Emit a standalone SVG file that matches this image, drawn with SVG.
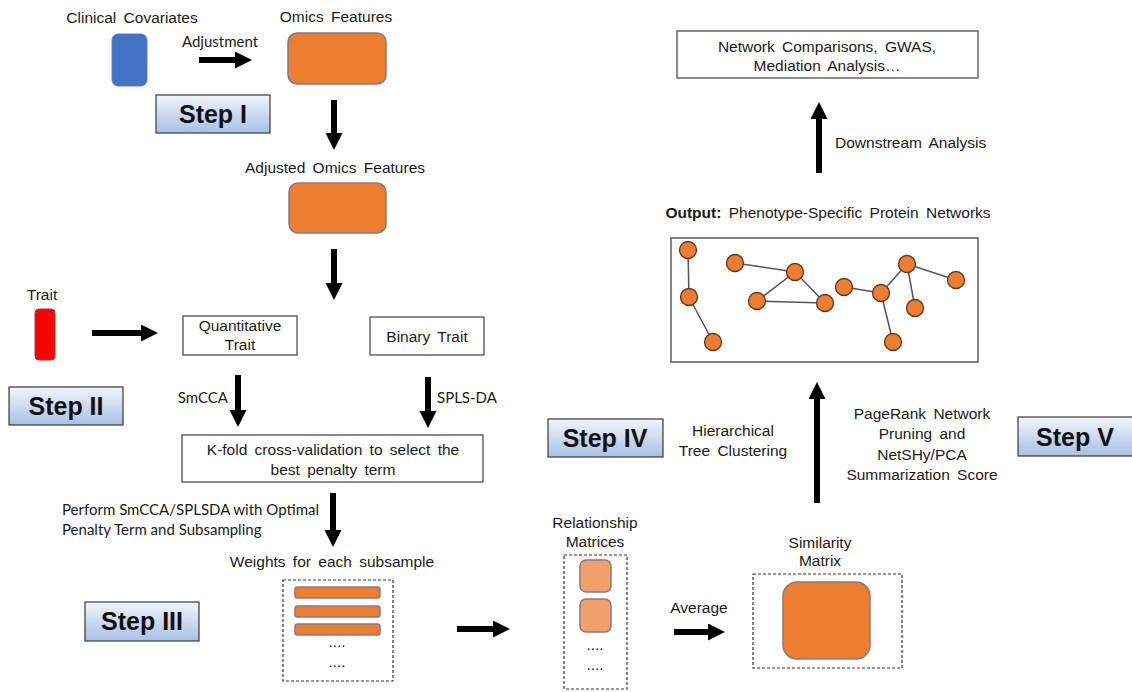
<svg xmlns="http://www.w3.org/2000/svg" width="1132" height="692" viewBox="0 0 1132 692">
<defs>
  <linearGradient id="stepg" x1="0" y1="0" x2="0" y2="1">
    <stop offset="0" stop-color="#f2f5fb"/>
    <stop offset="1" stop-color="#a8bfe4"/>
  </linearGradient>
  <marker id="ah" markerUnits="userSpaceOnUse" markerWidth="18" markerHeight="18" refX="5" refY="8.5" orient="auto">
    <path d="M0,0 L17,8.5 L0,17 z" fill="#000"/>
  </marker>
  <style>
    text { font-family: "Liberation Sans", Arial, sans-serif; font-size: 15.5px; word-spacing: 3px; fill: #1a1a1a; }
    .c { text-anchor: middle; }
    .cal { font-family: Lato, "Open Sans", sans-serif; font-size: 15px; word-spacing: 0; }
    .step rect { fill: url(#stepg); stroke: #3a3a3a; stroke-width: 1.2; }
    .step text { font-weight: bold; font-size: 25px; word-spacing: 0; text-anchor: middle; fill: #111; }
    .box { fill: #fff; stroke: #404040; stroke-width: 1.2; }
    .dash { fill: #fff; stroke: #333; stroke-width: 1.2; stroke-dasharray: 3 2; }
    .orange { fill: #ED7D31; stroke: #8a7a80; stroke-width: 1.5; }
    .lorange { fill: #F2A06C; stroke: #8a7a80; stroke-width: 1.5; }
    .conn line { stroke: #000; stroke-width: 6; marker-end: url(#ah); }
    .edge { stroke: #555; stroke-width: 1.5; }
    .node { fill: #ED7D31; stroke: #5a3a20; stroke-width: 1.3; }
  </style>
</defs>
<rect width="1132" height="692" fill="#fff"/>

<g id="clinical">
  <text class="c" x="132" y="23">Clinical Covariates</text>
  <rect x="112" y="34" width="35" height="52" rx="6" fill="#4472C4" stroke="#5b7fc0"/>
</g>
<g id="omics">
  <text class="c" x="336" y="22">Omics Features</text>
  <rect class="orange" x="288" y="33" width="98" height="51" rx="9"/>
</g>
<g id="step1" class="step">
  <rect x="156" y="95" width="114" height="38"/>
  <text x="213" y="123">Step I</text>
</g>
<g id="adjusted">
  <text class="c" x="335" y="173">Adjusted Omics Features</text>
  <rect class="orange" x="289" y="183" width="97" height="50" rx="9"/>
</g>
<g id="trait">
  <text class="c" x="42" y="300">Trait</text>
  <rect x="35" y="309" width="20" height="51" rx="4" fill="#FF0000" stroke="#b03030"/>
</g>
<g id="quant">
  <rect class="box" x="183" y="316" width="114" height="39"/>
  <text class="c" x="240" y="331">Quantitative</text>
  <text class="c" x="240" y="350">Trait</text>
</g>
<g id="binary">
  <rect class="box" x="370" y="317" width="114" height="38"/>
  <text class="c" x="427" y="342">Binary Trait</text>
</g>
<g id="step2" class="step">
  <rect x="9" y="387" width="114" height="38"/>
  <text x="66" y="415">Step II</text>
</g>
<g id="kfold">
  <rect class="box" x="182" y="435" width="301" height="47"/>
  <text class="c" x="333" y="455">K-fold cross-validation to select the</text>
  <text class="c" x="333" y="475">best penalty term</text>
</g>
<g id="weights">
  <text class="c" x="332" y="567">Weights for each subsample</text>
  <rect class="dash" x="283" y="580" width="110" height="101"/>
  <rect class="orange" x="295" y="587" width="85" height="11" rx="2.5"/>
  <rect class="orange" x="295" y="606" width="85" height="11" rx="2.5"/>
  <rect class="orange" x="295" y="624" width="85" height="11" rx="2.5"/>
  <text class="c" x="337" y="647">....</text>
  <text class="c" x="337" y="667">....</text>
</g>
<g id="step3" class="step">
  <rect x="85" y="602" width="114" height="39"/>
  <text x="142" y="630">Step III</text>
</g>
<g id="relationship">
  <text class="c" x="595" y="528">Relationship</text>
  <text class="c" x="595" y="547">Matrices</text>
  <rect class="dash" x="564" y="555" width="63" height="134"/>
  <rect class="lorange" x="580" y="560" width="31" height="32" rx="6"/>
  <rect class="lorange" x="580" y="599" width="31" height="33" rx="6"/>
  <text class="c" x="595" y="650">....</text>
  <text class="c" x="595" y="670">....</text>
</g>
<g id="similarity">
  <text class="c" x="820" y="548">Similarity</text>
  <text class="c" x="820" y="566">Matrix</text>
  <rect class="dash" x="753" y="574" width="149" height="94"/>
  <rect class="orange" x="783" y="582" width="87" height="77" rx="14"/>
</g>
<g id="step4" class="step">
  <rect x="548" y="419" width="115" height="38"/>
  <text x="605" y="447">Step IV</text>
</g>
<g id="hier">
  <text class="c" x="733" y="436">Hierarchical</text>
  <text class="c" x="733" y="456">Tree Clustering</text>
</g>
<g id="pagerank">
  <text class="c" x="922" y="419">PageRank Network</text>
  <text class="c" x="922" y="439">Pruning and</text>
  <text class="c" x="922" y="460">NetSHy/PCA</text>
  <text class="c" x="922" y="480">Summarization Score</text>
</g>
<g id="step5" class="step">
  <rect x="1018" y="417" width="118" height="39"/>
  <text x="1075" y="446">Step V</text>
</g>
<g id="network">
  <text class="c" x="828" y="218"><tspan font-weight="bold">Output:</tspan> Phenotype-Specific Protein Networks</text>
  <rect x="671" y="238" width="307" height="124" fill="#fff" stroke="#595959" stroke-width="1.5"/>
  <g>
    <line class="edge" x1="688" y1="250" x2="689" y2="297"/>
    <line class="edge" x1="689" y1="297" x2="713" y2="342"/>
    <line class="edge" x1="735" y1="263" x2="795" y2="272"/>
    <line class="edge" x1="795" y1="272" x2="757" y2="301"/>
    <line class="edge" x1="795" y1="272" x2="825" y2="303"/>
    <line class="edge" x1="757" y1="301" x2="825" y2="303"/>
    <line class="edge" x1="844" y1="287" x2="881" y2="293"/>
    <line class="edge" x1="881" y1="293" x2="907" y2="264"/>
    <line class="edge" x1="907" y1="264" x2="956" y2="280"/>
    <line class="edge" x1="907" y1="264" x2="915" y2="308"/>
    <line class="edge" x1="881" y1="293" x2="893" y2="342"/>
  </g>
  <g>
    <circle class="node" cx="688" cy="250" r="8.5"/>
    <circle class="node" cx="689" cy="297" r="8.5"/>
    <circle class="node" cx="713" cy="342" r="8.5"/>
    <circle class="node" cx="735" cy="263" r="8.5"/>
    <circle class="node" cx="795" cy="272" r="8.5"/>
    <circle class="node" cx="757" cy="301" r="8.5"/>
    <circle class="node" cx="825" cy="303" r="8.5"/>
    <circle class="node" cx="844" cy="287" r="8.5"/>
    <circle class="node" cx="881" cy="293" r="8.5"/>
    <circle class="node" cx="907" cy="264" r="8.5"/>
    <circle class="node" cx="956" cy="280" r="8.5"/>
    <circle class="node" cx="915" cy="308" r="8.5"/>
    <circle class="node" cx="893" cy="342" r="8.5"/>
  </g>
</g>
<g id="downstream">
  <rect class="box" x="677" y="31" width="301" height="47"/>
  <text class="c" x="827" y="52">Network Comparisons, GWAS,</text>
  <text class="c" x="827" y="71">Mediation Analysis…</text>
</g>

<g id="connectors" class="conn">
  <line x1="199" y1="60" x2="240" y2="60"/>
  <line x1="334" y1="100" x2="334" y2="138"/>
  <line x1="334" y1="249" x2="334" y2="288"/>
  <line x1="92" y1="333" x2="146" y2="333"/>
  <line x1="238" y1="375" x2="238" y2="415"/>
  <line x1="428" y1="377" x2="428" y2="416"/>
  <line x1="333" y1="493" x2="333" y2="535"/>
  <line x1="457" y1="629" x2="498" y2="629"/>
  <line x1="674" y1="632" x2="713" y2="632"/>
  <line x1="817" y1="503" x2="817" y2="394"/>
  <line x1="819" y1="173" x2="819" y2="114"/>
</g>
<g id="labels">
  <text class="cal c" x="220" y="47">Adjustment</text>
  <text class="cal" x="228" y="403" text-anchor="end">SmCCA</text>
  <text class="cal" x="437" y="403">SPLS-DA</text>
  <text class="cal" x="62" y="515">Perform SmCCA/SPLSDA with Optimal</text>
  <text class="cal" x="62" y="535">Penalty Term and Subsampling</text>
  <text class="c" x="699" y="613" font-size="16">Average</text>
  <text x="835" y="148">Downstream Analysis</text>
</g>
</svg>
